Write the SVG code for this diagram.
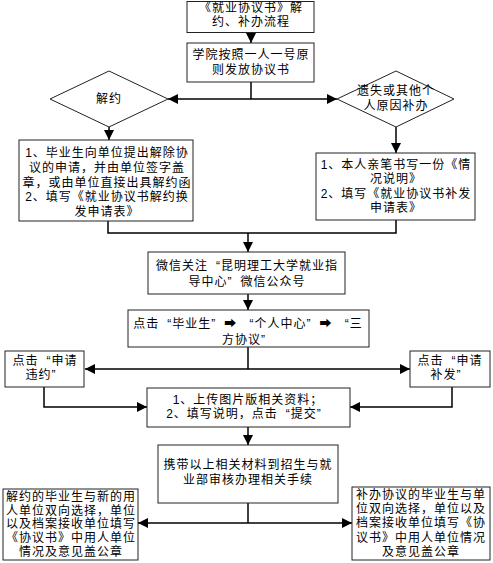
<svg xmlns="http://www.w3.org/2000/svg" width="493" height="563" viewBox="0 0 493 563">
<style>
.box{fill:#fff;stroke:#222;stroke-width:1}
.dia{fill:#fff;stroke:#222;stroke-width:1}
.t{font-family:"Liberation Sans","Noto Sans CJK SC",sans-serif;font-size:12px;letter-spacing:1px;fill:#000;text-anchor:middle;dominant-baseline:central}
.qc{letter-spacing:9px}
.ln{fill:none;stroke:#000;stroke-width:1.5}
.ar{fill:none;stroke:#000;stroke-width:1.5;marker-end:url(#ah)}
</style>
<defs>
<marker id="ah" markerUnits="userSpaceOnUse" markerWidth="10" markerHeight="10" refX="10" refY="5" orient="auto">
<path d="M0,0 L10,5 L0,10 z" fill="#000"/>
</marker>
</defs>
<rect width="493" height="563" fill="#fff"/>
<g id="connectors">
<path class="ar" d="M251,32 V43"/>
<path class="ln" d="M251,82 V99"/>
<path class="ar" d="M251,99 H168"/>
<path class="ar" d="M251,99 H337"/>
<path class="ar" d="M109,127 V140"/>
<path class="ar" d="M396,127 V153"/>
<path class="ln" d="M108,221 V233 H396 V220"/>
<path class="ar" d="M248,233 V252"/>
<path class="ar" d="M248,294 V310"/>
<path class="ln" d="M248,347 V369"/>
<path class="ar" d="M248,369 H85"/>
<path class="ar" d="M248,369 H410"/>
<path class="ar" d="M44,387 V407 H147"/>
<path class="ar" d="M452,387 V407 H350"/>
<path class="ar" d="M248,427 V445"/>
<path class="ln" d="M248,503 V523"/>
<path class="ar" d="M248,523 H138"/>
<path class="ar" d="M248,523 H352"/>
</g>
<g id="n-title">
<rect class="box" x="187" y="1.5" width="127" height="31"/>
<text class="t"><tspan x="251" y="8">《就业协议书》解</tspan><tspan x="251" y="22">约、补办流程</tspan></text>
</g>
<g id="n-issue">
<rect class="box" x="187" y="43" width="127" height="39"/>
<text class="t"><tspan x="251" y="55">学院按照一人一号原</tspan><tspan x="251" y="70">则发放协议书</tspan></text>
</g>
<g id="n-cancel-dia">
<polygon class="dia" points="50,99 109,71 168,99 109,127"/>
<text class="t" x="109" y="99">解约</text>
</g>
<g id="n-reissue-dia">
<polygon class="dia" points="337,99 396,71 454,99 396,127"/>
<text class="t"><tspan x="396" y="91">遗失或其他个</tspan><tspan x="396" y="106">人原因补办</tspan></text>
</g>
<g id="n-cancel-steps">
<rect class="box" x="19" y="140" width="174" height="81"/>
<text class="t"><tspan x="107" y="153">1、毕业生向单位提出解除协</tspan><tspan x="107" y="168">议的申请，并由单位签字盖</tspan><tspan x="107" y="183">章，或由单位直接出具解约函</tspan><tspan x="107" y="197">2、填写《就业协议书解约换</tspan><tspan x="107" y="212">发申请表》</tspan></text>
</g>
<g id="n-reissue-steps">
<rect class="box" x="316" y="153" width="159" height="67"/>
<text class="t"><tspan x="396" y="165">1、本人亲笔书写一份《情</tspan><tspan x="396" y="179">况说明》</tspan><tspan x="396" y="194">2、填写《就业协议书补发</tspan><tspan x="396" y="208">申请表》</tspan></text>
</g>
<g id="n-wechat">
<rect class="box" x="148" y="252" width="197" height="42"/>
<text class="t"><tspan x="247" y="266">微信关注<tspan dx="8">“</tspan>昆明理工大学就业指</tspan><tspan x="247" y="282">导中心<tspan class="qc">”</tspan>微信公众号</tspan></text>
</g>
<g id="n-click">
<rect class="box" x="128" y="310" width="241" height="37"/>
<text class="t"><tspan x="248" y="324">点击<tspan dx="8">“</tspan>毕业生<tspan class="qc">”</tspan>➡ <tspan dx="8">“</tspan>个人中心<tspan class="qc">”</tspan>➡ <tspan dx="8">“</tspan>三</tspan><tspan x="248" y="340">方协议<tspan class="qc">”</tspan></tspan></text>
</g>
<g id="n-apply-cancel">
<rect class="box" x="5" y="351" width="79" height="36"/>
<text class="t"><tspan x="45" y="361">点击<tspan dx="8">“</tspan>申请</tspan><tspan x="45" y="375">违约<tspan class="qc">”</tspan></tspan></text>
</g>
<g id="n-apply-reissue">
<rect class="box" x="410" y="351" width="80" height="36"/>
<text class="t"><tspan x="450" y="361">点击<tspan dx="8">“</tspan>申请</tspan><tspan x="450" y="375">补发<tspan class="qc">”</tspan></tspan></text>
</g>
<g id="n-upload">
<rect class="box" x="147" y="388" width="203" height="39"/>
<text class="t"><tspan x="248" y="400">1、上传图片版相关资料；</tspan><tspan x="248" y="414">2、填写说明，点击<tspan dx="8">“</tspan>提交<tspan class="qc">”</tspan></tspan></text>
</g>
<g id="n-office">
<rect class="box" x="158" y="445" width="180" height="58"/>
<text class="t"><tspan x="248" y="465">携带以上相关材料到招生与就</tspan><tspan x="248" y="480">业部审核办理相关手续</tspan></text>
</g>
<g id="n-final-cancel">
<rect class="box" x="3" y="489" width="135" height="71"/>
<text class="t"><tspan x="71" y="497">解约的毕业生与新的用</tspan><tspan x="71" y="511">人单位双向选择，单位</tspan><tspan x="71" y="524">以及档案接收单位填写</tspan><tspan x="71" y="538">《协议书》中用人单位</tspan><tspan x="71" y="552">情况及意见盖公章</tspan></text>
</g>
<g id="n-final-reissue">
<rect class="box" x="352" y="487" width="138" height="73"/>
<text class="t"><tspan x="421" y="495">补办协议的毕业生与单</tspan><tspan x="421" y="509">位双向选择，单位以及</tspan><tspan x="421" y="523">档案接收单位填写《协</tspan><tspan x="421" y="538">议书》中用人单位情况</tspan><tspan x="421" y="552">及意见盖公章</tspan></text>
</g>
</svg>
